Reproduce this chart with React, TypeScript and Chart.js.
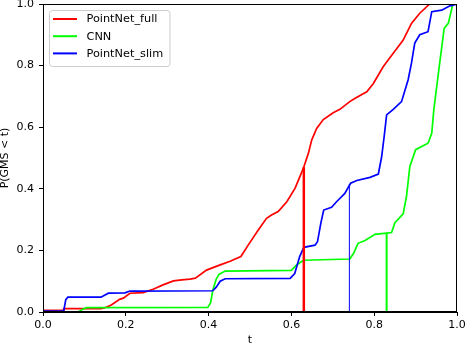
import React, { useEffect, useRef } from "react";
import { Chart, registerables } from "chart.js";

Chart.register(...registerables);

const fullX = [0, 0.049, 0.05, 0.14, 0.15, 0.165, 0.185, 0.194, 0.21, 0.242, 0.266, 0.29, 0.315, 0.335, 0.355, 0.368, 0.395, 0.428, 0.452, 0.478, 0.496, 0.52, 0.54, 0.552, 0.568, 0.589, 0.609, 0.629, 0.641, 0.649, 0.661, 0.677, 0.701, 0.717, 0.741, 0.754, 0.782, 0.798, 0.822, 0.846, 0.87, 0.89, 0.91, 0.934];
const fullY = [0.005, 0.005, 0.011, 0.011, 0.014, 0.023, 0.041, 0.045, 0.061, 0.063, 0.074, 0.088, 0.101, 0.104, 0.107, 0.11, 0.136, 0.153, 0.165, 0.18, 0.218, 0.266, 0.304, 0.315, 0.326, 0.358, 0.402, 0.467, 0.515, 0.558, 0.596, 0.625, 0.647, 0.658, 0.683, 0.694, 0.715, 0.742, 0.797, 0.84, 0.883, 0.937, 0.97, 1.0];

const cnnX = [0, 0.085, 0.095, 0.105, 0.398, 0.405, 0.41, 0.418, 0.425, 0.44, 0.6, 0.612, 0.629, 0.741, 0.75, 0.761, 0.778, 0.802, 0.83, 0.842, 0.85, 0.87, 0.878, 0.886, 0.9, 0.93, 0.939, 0.944, 0.947, 0.955, 0.969, 0.979, 0.99];
const cnnY = [0, 0, 0.008, 0.014, 0.015, 0.03, 0.07, 0.105, 0.122, 0.133, 0.135, 0.152, 0.168, 0.172, 0.19, 0.223, 0.232, 0.252, 0.256, 0.258, 0.29, 0.319, 0.375, 0.472, 0.527, 0.548, 0.58, 0.656, 0.689, 0.775, 0.921, 0.937, 1.0];

const slimX = [0, 0.05, 0.055, 0.06, 0.14, 0.158, 0.198, 0.21, 0.41, 0.418, 0.428, 0.44, 0.597, 0.608, 0.62, 0.63, 0.657, 0.663, 0.671, 0.678, 0.697, 0.709, 0.729, 0.743, 0.758, 0.79, 0.81, 0.818, 0.824, 0.83, 0.846, 0.866, 0.882, 0.89, 0.898, 0.91, 0.93, 0.939, 0.963, 0.983, 1.0];
const slimY = [0.003, 0.003, 0.04, 0.048, 0.048, 0.061, 0.062, 0.068, 0.069, 0.08, 0.1, 0.108, 0.109, 0.125, 0.18, 0.21, 0.217, 0.228, 0.288, 0.331, 0.34, 0.358, 0.385, 0.418, 0.427, 0.437, 0.448, 0.504, 0.569, 0.64, 0.658, 0.683, 0.754, 0.808, 0.873, 0.9, 0.91, 0.975, 0.98, 0.994, 1.0];

// vertical markers: [x, top y]
const fullMarker = [0.63, 0.47];
const slimMarker = [0.74, 0.415];
const cnnMarker = [0.83, 0.256];

const seriesNames = ["PointNet_full", "CNN", "PointNet_slim"];
const seriesColors = ["#ff0000", "#00ff00", "#0000ff"];
const xTitle = "t";
const yTitle = "P(GMS < t)";

const FONT = "DejaVu Sans";

const zip = (xs: number[], ys: number[]) => xs.map((x, i) => ({ x, y: ys[i] }));
const vline = (m: number[]) => [{ x: m[0], y: 0 }, { x: m[0], y: m[1] }];

const overlay = {
  id: "overlay",
  afterDraw(chart: any) {
    const { ctx, chartArea: a } = chart;
    ctx.save();
    // frame
    ctx.strokeStyle = "#000";
    ctx.lineWidth = 1;
    ctx.strokeRect(Math.round(a.left) + 0.5, Math.round(a.top) + 0.5, Math.round(a.right - a.left) - 1, Math.round(a.bottom - a.top) - 1);
    // axis titles
    ctx.fillStyle = "#000";
    ctx.font = `11px "${FONT}"`;
    ctx.textAlign = "center";
    ctx.textBaseline = "middle";
    ctx.fillText(xTitle, (a.left + a.right) / 2, 340);
    ctx.save();
    ctx.translate(5, (a.top + a.bottom) / 2);
    ctx.rotate(-Math.PI / 2);
    ctx.fillText(yTitle, 0, 0);
    ctx.restore();
    // legend
    const bx = 49.5, by = 10.5, bw = 120.5, bh = 56, r = 3;
    ctx.beginPath();
    ctx.moveTo(bx + r, by);
    ctx.lineTo(bx + bw - r, by);
    ctx.quadraticCurveTo(bx + bw, by, bx + bw, by + r);
    ctx.lineTo(bx + bw, by + bh - r);
    ctx.quadraticCurveTo(bx + bw, by + bh, bx + bw - r, by + bh);
    ctx.lineTo(bx + r, by + bh);
    ctx.quadraticCurveTo(bx, by + bh, bx, by + bh - r);
    ctx.lineTo(bx, by + r);
    ctx.quadraticCurveTo(bx, by, bx + r, by);
    ctx.closePath();
    ctx.fillStyle = "rgba(255,255,255,0.8)";
    ctx.fill();
    ctx.strokeStyle = "#cccccc";
    ctx.stroke();
    ctx.font = `11.3px "${FONT}"`;
    ctx.textAlign = "left";
    seriesNames.forEach((name, i) => {
      const yy = 19 + i * 17.2;
      ctx.strokeStyle = seriesColors[i];
      ctx.lineWidth = 2;
      ctx.beginPath();
      ctx.moveTo(53, yy);
      ctx.lineTo(77, yy);
      ctx.stroke();
      ctx.fillStyle = "#000";
      ctx.fillText(name, 86.5, yy + 0.5);
    });
    ctx.restore();
  },
};

export default function App() {
  const ref = useRef<HTMLCanvasElement>(null);
  useEffect(() => {
    document.body.style.margin = "0";
    const common = { pointRadius: 0, fill: false, tension: 0 };
    const chart = new Chart(ref.current!, {
      type: "line",
      data: {
        datasets: [
          { ...common, label: "fullMarker", data: vline(fullMarker), borderColor: seriesColors[0], borderWidth: 2.5, order: 0 },
          { ...common, label: "slimMarker", data: vline(slimMarker), borderColor: seriesColors[2], borderWidth: 1, order: 0 },
          { ...common, label: "cnnMarker", data: vline(cnnMarker), borderColor: seriesColors[1], borderWidth: 2, order: 0 },
          { ...common, label: seriesNames[2], data: zip(slimX, slimY), borderColor: seriesColors[2], borderWidth: 1.7, order: 1 },
          { ...common, label: seriesNames[1], data: zip(cnnX, cnnY), borderColor: seriesColors[1], borderWidth: 1.7, order: 2 },
          { ...common, label: seriesNames[0], data: zip(fullX, fullY), borderColor: seriesColors[0], borderWidth: 1.7, order: 3 },
        ],
      },
      options: {
        animation: false,
        responsive: false,
        devicePixelRatio: 1,
        layout: { padding: { top: 4, right: 9, left: 0, bottom: 0 } },
        plugins: { legend: { display: false }, tooltip: { enabled: false } },
        scales: {
          x: {
            type: "linear",
            min: 0,
            max: 1,
            afterFit: (s: any) => { s.height = 34; s.paddingLeft = 0; s.paddingRight = 0; },
            grid: { drawOnChartArea: false, drawTicks: true, tickLength: 4, color: "#000" },
            border: { display: true, color: "#000" },
            ticks: { stepSize: 0.2, color: "#000", padding: 3, font: { family: FONT, size: 11 }, callback: (v: any) => Number(v).toFixed(1), maxRotation: 0 },
          },
          y: {
            type: "linear",
            min: 0,
            max: 1,
            afterFit: (s: any) => { s.width = 43; s.paddingTop = 0; s.paddingBottom = 0; },
            grid: { drawOnChartArea: false, drawTicks: true, tickLength: 4, color: "#000" },
            border: { display: true, color: "#000" },
            ticks: { stepSize: 0.2, color: "#000", padding: 5, font: { family: FONT, size: 11 }, callback: (v: any) => Number(v).toFixed(1) },
          },
        },
      },
      plugins: [overlay],
    });
    return () => chart.destroy();
  }, []);
  return (
    <div style={{ width: 466, height: 346 }}>
      <canvas ref={ref} width={466} height={346} style={{ display: "block" }} />
    </div>
  );
}
